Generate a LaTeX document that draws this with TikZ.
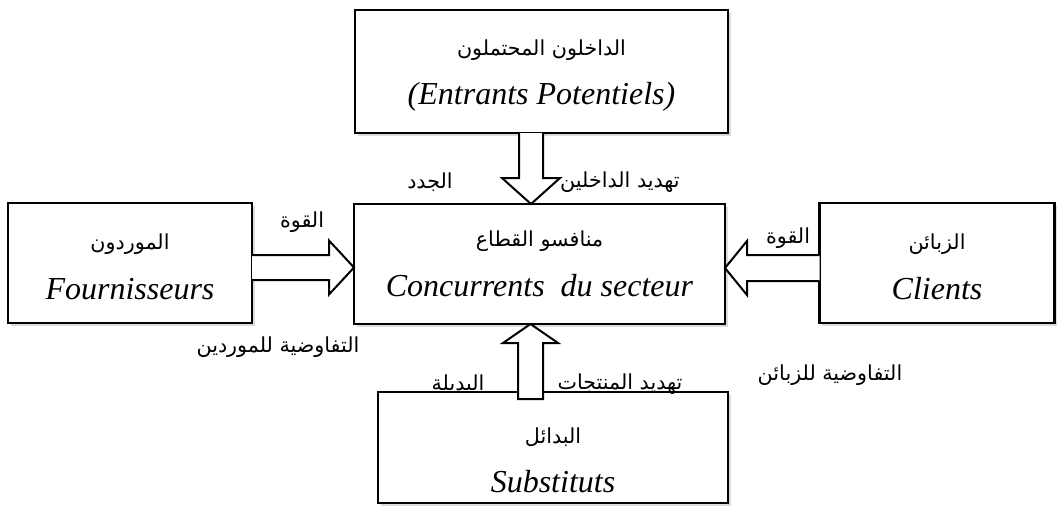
\documentclass[tikz,border=0pt]{standalone}
\usepackage{fontspec}
\setmainfont{Liberation Serif}
\newfontfamily\arabicfont[Script=Arabic]{DejaVu Sans}
\TeXXeTstate=1
\usetikzlibrary{calc,shadows}
\begin{document}
\begin{tikzpicture}[x=0.75pt,y=-0.75pt,
  box/.style={draw, line width=2.2pt, fill=white, inner sep=0pt, outer sep=0pt,
    drop shadow={shadow xshift=2.2pt, shadow yshift=-2.2pt, fill=black!28}},
  barrow/.style={draw, line width=1.5pt, fill=white, line join=miter},
  ar/.style={font=\arabicfont\fontsize{15.5pt}{18pt}\selectfont, inner sep=0pt},
  la/.style={font=\itshape\fontsize{24pt}{28pt}\selectfont, inner sep=0pt}]
\useasboundingbox (0,0) rectangle (1058,508);

% boxes
\node[box, minimum width=279.75pt, minimum height=92.25pt] (top) at (541.5,71.5) {};
\node[box, minimum width=278.25pt, minimum height=90pt] (mid) at (539.5,264) {};
\node[box, minimum width=183pt, minimum height=90pt] (left) at (130,263) {};
\node[box, minimum width=176.25pt, minimum height=90pt] (right) at (937,263) {};
\node[box, minimum width=262.5pt, minimum height=83.25pt] (bot) at (553,447.5) {};

% box texts
\node[ar] (topar) at ($(top.center)+(0,-21)$) {\beginR الداخلون المحتملون\endR};
\node[la] (topla) at ($(top.center)+(0,25)$) {(Entrants Potentiels)};
\node[ar] (midar) at ($(mid.center)+(0,-23)$) {\beginR منافسو القطاع\endR};
\node[la] (midla) at ($(mid.center)+(0,22)$) {Concurrents\ \ du secteur};
\node[ar] (leftar) at ($(left.center)+(0,-19)$) {\beginR الموردون\endR};
\node[la] (leftla) at ($(left.center)+(0,26)$) {Fournisseurs};
\node[ar] (rightar) at ($(right.center)+(0,-19)$) {\beginR الزبائن\endR};
\node[la] (rightla) at ($(right.center)+(0,26)$) {Clients};
\node[ar] (botar) at ($(bot.center)+(0,-10)$) {\beginR البدائل\endR};
\node[la] (botla) at ($(bot.center)+(0,34)$) {Substituts};

% top arrow (down)
\coordinate (ts) at ($(top.south)+(-10.5,0)$);
\coordinate (tt) at (ts |- mid.north);
\draw[barrow] ($(ts)+(-12,0)$) -- ($(tt)+(-12,-26)$) -- ($(tt)+(-29,-26)$) -- (tt)
  -- ($(tt)+(29,-26)$) -- ($(tt)+(12,-26)$) -- ($(ts)+(12,0)$);

% left arrow (right)
\coordinate (ls) at ($(left.east)+(0,4.5)$);
\coordinate (lt) at (ls -| mid.west);
\draw[barrow] ($(ls)+(0,-12.5)$) -- ($(lt)+(-25,-12.5)$) -- ($(lt)+(-25,-27)$) -- (lt)
  -- ($(lt)+(-25,27)$) -- ($(lt)+(-25,12.5)$) -- ($(ls)+(0,12.5)$);

% right arrow (left)
\coordinate (rs) at ($(right.west)+(0,5)$);
\coordinate (rt) at (rs -| mid.east);
\draw[barrow] ($(rs)+(0,-13)$) -- ($(rt)+(22,-13)$) -- ($(rt)+(22,-27)$) -- (rt)
  -- ($(rt)+(22,27)$) -- ($(rt)+(22,13)$) -- ($(rs)+(0,13)$);

% bottom arrow (up)
\coordinate (bs) at ($(bot.north)+(-22.5,7)$);
\coordinate (bt) at (bs |- mid.south);
\draw[barrow] ($(bs)+(-12.5,0)$) -- ($(bt)+(-12.5,19)$) -- ($(bt)+(-27.5,19)$) -- (bt)
  -- ($(bt)+(27.5,19)$) -- ($(bt)+(12.5,19)$) -- ($(bs)+(12.5,0)$) -- cycle;

% arrow labels
\node[ar] (l1) at (620,182) {\beginR تهديد الداخلين\endR};
\node[ar] (l2) at (430,182) {\beginR الجدد\endR};
\node[ar] (l3) at (302,222) {\beginR القوة\endR};
\node[ar] (l4) at (278,347) {\beginR التفاوضية للموردين\endR};
\node[ar] (l5) at (788,238) {\beginR القوة\endR};
\node[ar] (l6) at (830,375) {\beginR التفاوضية للزبائن\endR};
\node[ar] (l7) at (620,384) {\beginR تهديد المنتجات\endR};
\node[ar] (l8) at (458,384) {\beginR البديلة\endR};
\end{tikzpicture}
\end{document}
